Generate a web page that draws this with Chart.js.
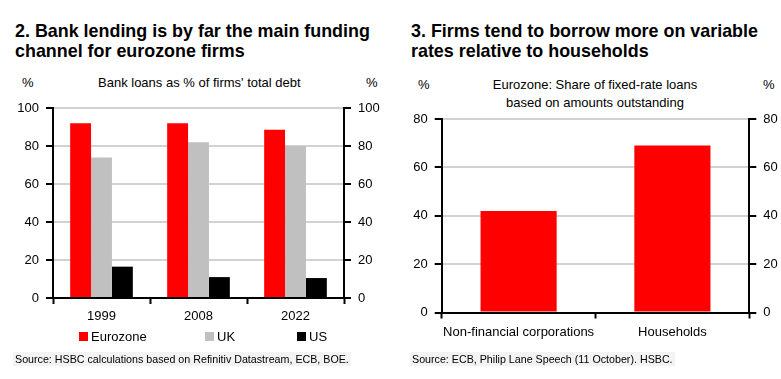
<!DOCTYPE html>
<html><head><meta charset="utf-8">
<script src="https://cdn.jsdelivr.net/npm/chart.js@4/dist/chart.umd.min.js"></script>
<style>
html,body{margin:0;padding:0;background:#fff;}
body{width:781px;height:379px;position:relative;overflow:hidden;font-family:'Liberation Sans',Arial,sans-serif;color:#000;}
.t{position:absolute;white-space:nowrap;}
.title{font-weight:bold;font-size:17.9px;line-height:20px;}
.sub{font-size:13px;line-height:18px;text-align:center;}
.src{font-size:10.7px;line-height:14px;background:#f3f3f3;padding:0 2px;}
canvas{position:absolute;}
.lg{position:absolute;font-size:13px;line-height:16px;white-space:nowrap;}
.sw{display:inline-block;width:9px;height:9px;margin-right:3px;vertical-align:0px;}
</style></head>
<body>
<div class="t title" style="left:15px;top:21px;">2. Bank lending is by far the main funding<br>channel for eurozone firms</div>
<div class="t title" style="left:411px;top:21px;">3. Firms tend to borrow more on variable<br>rates relative to households</div>

<div class="t sub" style="left:22px;top:74px;">%</div>
<div class="t sub" style="left:98px;top:74px;width:201px;">Bank loans as % of firms' total debt</div>
<div class="t sub" style="left:366px;top:74px;">%</div>

<div class="t sub" style="left:418px;top:76px;">%</div>
<div class="t sub" style="left:475px;top:76px;width:240px;">Eurozone: Share of fixed-rate loans<br>based on amounts outstanding</div>
<div class="t sub" style="left:763px;top:76px;">%</div>

<canvas id="c1" width="390" height="240" style="left:0;top:90px;width:390px;height:240px;"></canvas>
<canvas id="c2" width="391" height="255" style="left:390px;top:90px;width:391px;height:255px;"></canvas>

<div id="legend"></div>

<div class="t src" style="left:13px;top:352px;">Source: HSBC calculations based on Refinitiv Datastream, ECB, BOE.</div>
<div class="t src" style="left:410px;top:352px;">Source: ECB, Philip Lane Speech (11 October). HSBC.</div>

<script>
// ---- data ----
const years = ['1999', '2008', '2022'];
const eurozone = [92, 92, 88.5];
const uk = [74, 82, 80];
const us = [16.5, 11, 10.5];
const seriesNames = ['Eurozone', 'UK', 'US'];
const seriesColors = ['#ff0000', '#c0c0c0', '#000000'];

const loanTypes = ['Non-financial corporations', 'Households'];
const fixedShare = [42, 69];

// ---- shared styling ----
const FAM = "'Liberation Sans',Arial,sans-serif";
const tickFont = {family: FAM, size: 13};
const GRID = '#d2d2d2';

function yAxis(pos, max, width, onArea) {
  return {
    position: pos, min: 0, max: max,
    ticks: {stepSize: 20, font: tickFont, color: '#000', padding: 7},
    grid: {display: true, drawOnChartArea: onArea, color: GRID, lineWidth: 2,
           tickColor: '#000', tickLength: 7, tickWidth: 2},
    border: {display: true, color: '#000', width: 2},
    afterFit(s) { s.width = width; }
  };
}
function xAxis(height, pad) {
  return {
    grid: {offset: true, drawOnChartArea: false, drawTicks: true, tickLength: 6,
           tickColor: '#000', tickWidth: 2, color: '#000'},
    border: {display: true, color: '#000', width: 2},
    ticks: {font: tickFont, color: '#000', padding: pad, maxRotation: 0, autoSkip: false},
    afterFit(s) { s.height = height; }
  };
}

// ---- chart 1 ----
const seriesData = [eurozone, uk, us];
new Chart(document.getElementById('c1'), {
  type: 'bar',
  data: {
    labels: years,
    datasets: seriesNames.map((n, i) => ({
      label: n, data: seriesData[i], backgroundColor: seriesColors[i],
      borderWidth: 0, categoryPercentage: 0.646, barPercentage: 1, yAxisID: 'y'
    }))
  },
  options: {
    responsive: false, animation: false, devicePixelRatio: 1,
    layout: {padding: {top: 18, left: 0, right: 0, bottom: 0}},
    plugins: {legend: {display: false}, tooltip: {enabled: false}},
    scales: {
      x: xAxis(32, 5),
      y: yAxis('left', 100, 53, true),
      y2: yAxis('right', 100, 46, false)
    }
  }
});

// ---- chart 2 ----
new Chart(document.getElementById('c2'), {
  type: 'bar',
  data: {
    labels: loanTypes,
    datasets: [{label: 'Share of fixed-rate loans', data: fixedShare, backgroundColor: '#ff0000',
      borderWidth: 0, categoryPercentage: 0.99, barPercentage: 0.5, yAxisID: 'y'}]
  },
  options: {
    responsive: false, animation: false, devicePixelRatio: 1,
    layout: {padding: {top: 29, left: 0, right: 0, bottom: 0}},
    plugins: {legend: {display: false}, tooltip: {enabled: false}},
    scales: {
      x: xAxis(32.5, 6),
      y: yAxis('left', 80, 51.7, true),
      y2: yAxis('right', 80, 31.7, false)
    }
  }
});

// ---- legend (chart 1) ----
const legendX = [79, 205, 297];
const lg = document.getElementById('legend');
seriesNames.forEach((n, i) => {
  const d = document.createElement('div');
  d.className = 'lg';
  d.style.left = legendX[i] + 'px';
  d.style.top = '329px';
  d.innerHTML = '<span class="sw" style="background:' + seriesColors[i] + '"></span>' + n;
  lg.appendChild(d);
});
</script>
</body></html>
